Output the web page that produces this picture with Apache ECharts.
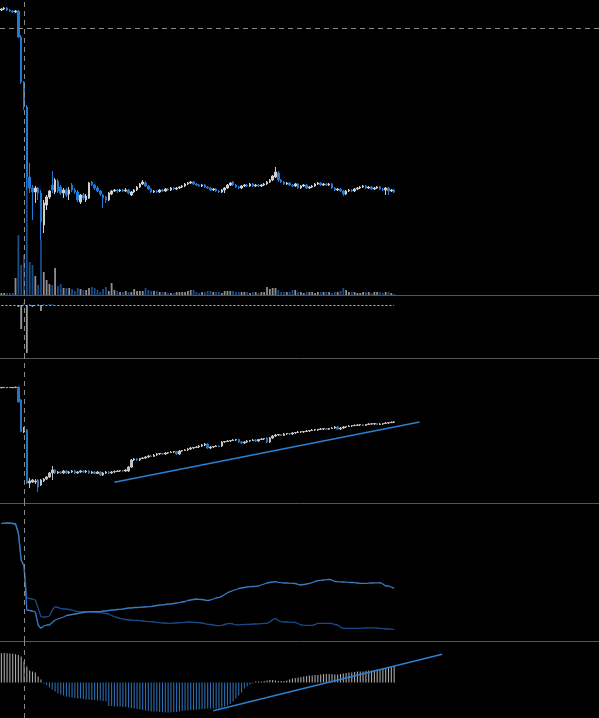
<!DOCTYPE html>
<html><head><meta charset="utf-8">
<script src="https://cdn.jsdelivr.net/npm/echarts@6/dist/echarts.min.js"></script>
<style>html,body{margin:0;padding:0;background:#000;overflow:hidden}#c{width:599px;height:718px}</style>
</head><body><div id="c"></div>
<script>
// ---------- DATA ----------
const slotCount = 212;
const categories = Array.from({length: slotCount}, (_, i) => 'T' + (i + 1));
const markerIndex = 8;
const priceRef = 271.7;

// price candles: [open, close, low, high]
const priceCandles = [
[290,291,289,292],[291,292,290,293],[292,290,289,293],[290,289,288,291],[289,288,287,290],
[288,289,287,290],[289,263,262,290],[263,218,216,265],[218,193,190,219],[193,123,110,195],
[123,112,107,137],[112,108,80,115],[108,112,97,114],[112,107,100,113],[107,78,60,110],
[75,97,67,100],[95,103,90,105],[103,109,101,110],[115,110,107,129],[108,120,106,122],
[119,109,107,121],[113,107,105,115],[107,110,102,112],[110,105,103,112],[106,110,100,113],
[115,110,108,117],[110,108,106,112],[108,100,98,110],[98,105,96,106],[105,102,100,107],
[100,104,98,106],[102,117,101,118],[118,115,114,119],[115,112,110,116],[112,109,108,114],
[109,106,104,110],[105,102,92,106],[103,100,97,104],[100,107,99,108],[106,109,105,110],
[109,110,108,111],[110,109,107,111],[109,110,108,111],[110,109,108,111],[109,110,108,112],
[110,107,106,111],[105,108,104,109],[108,110,107,111],[110,113,109,114],[113,116,112,117],
[116,118,115,120],[117,114,113,119],[114,111,110,115],[111,108,107,112],[108,109,107,110],
[109,108,107,110],[108,110,107,111],[110,109,108,111],[109,111,108,112],[111,110,109,112],
[110,112,109,113],[112,111,110,113],[111,112,110,113],[112,113,111,114],[113,114,112,115],
[114,116,113,117],[116,117,115,118],[117,118,116,119],[118,116,115,119],[116,115,114,117],
[115,114,113,116],[114,115,113,116],[115,113,112,116],[113,112,111,114],[112,110,109,113],
[110,111,109,112],[111,109,108,112],[109,108,107,110],[108,110,107,111],[110,112,107,113],
[112,115,111,116],[115,117,114,118],[118,115,114,119],[115,113,112,116],[113,112,111,114],
[112,114,111,115],[114,115,113,116],[115,114,113,116],[114,116,113,117],[116,114,113,117],
[114,115,113,116],[115,114,113,116],[114,115,113,116],[115,116,114,117],[116,118,115,119],
[118,120,117,121],[120,124,119,125],[123,128,122,133],[127,120,118,129],[120,118,117,121],
[118,116,115,119],[116,117,115,118],[117,115,114,118],[115,114,113,116],[114,116,113,117],
[116,112,111,117],[112,114,111,115],[114,115,113,116],[115,112,111,116],[112,113,111,114],
[113,114,112,115],[114,116,113,117],[116,117,115,118],[117,115,114,118],[115,116,114,117],
[116,115,114,117],[115,116,114,117],[116,112,111,117],[112,110,109,113],[110,111,109,112],
[111,109,108,112],[109,106,104,110],[106,109,105,110],[109,110,108,111],[110,109,108,111],
[109,111,108,112],[111,112,110,113],[112,113,111,114],[113,114,112,115],[114,112,111,115],
[112,113,111,114],[113,111,110,114],[111,112,110,113],[112,113,111,114],[113,111,110,114],
[111,110,109,112],[110,112,105,113],[112,109,105,113],[109,110,108,111],[110,108,107,111]
];

const volumes = [
2,2,2,2,2,17,60,30,40,117, 33,30,19,10,55,23,15,11,10,27,
9,11,7,7,7,6,4,7,6,5, 5,7,8,7,5,3,6,8,4,12,
5,4,3,3,4,3,3,6,4,4, 4,7,5,4,4,4,3,3,3,2,
2,2,3,3,3,3,4,5,5,3, 2,3,3,4,4,3,3,3,2,4,
4,4,4,3,3,3,3,3,2,3, 3,2,3,3,8,6,7,7,5,3,
3,3,3,5,5,3,3,2,3,3, 3,2,3,3,3,3,3,2,3,3,
4,7,5,3,3,3,2,2,3,3, 3,2,3,3,3,2,3,3,2,1
];

const flowBars = [0,0,0,0,0,0,-2,-24,2,-48, 1,-2,0,1,-6,1,0,1,1,0];

// indicator candles: [open, close, low, high]
const indexCandles = [
[122.2,122.6,121.8,123],[122.4,122.7,122,123],[122.3,122.6,122,123],[122.4,122.7,122,123],[122.3,122.6,122,123],
[122.4,122.8,122,123.2],[123,108,107.5,123.5],[110,78.5,78,111],[78,79,77,83],[80,27,26,81],
[27,29,22,32],[28,30,27,31],[28,29,26,31],[30,23,18,31],[25,30,24,31],
[29,31,28,32],[31,33,30,34],[33,37,32,38],[37,40,30,44],[40,37,36,41],
[37,38,36,39],[38,37,36,39],[37,39,36,40],[39,37,36,40],[37,38,36,39],
[38,39,37,40],[39,37,36,40],[37,38,36,39],[38,39,37,40],[39,38,37,40],
[38,39,37,40],[39,37,36,40],[37,38,36,39],[38,36.5,36,39],[36.5,38,36,39],
[38,35,34,39],[35,37,34,38],[37,38,36,39],[38,37,36,39],[37,38,36,39],
[38,38.5,37,39.5],[38.5,39,38,40],[39,39.5,38,40],[39.5,39,38,40],[39,40,38,41],
[39,43,38,44],[43,50,42,51],[50,51,49,52],[51,50,49,52],[50,51.5,49,52],
[51.5,52,51,53],[52,53,51,54],[53,54,52,55],[54,53.5,53,55],[53.5,55,53,56],
[55,56,54,57],[56,56.5,55,57],[56.5,56,55,57],[56,57,55,58],[57,57.5,56,58],
[57.5,58,57,59],[58,58.5,57,59],[58.5,56,55,59],[56,59,55,60],[59,59.5,58,60],
[59.5,60,59,61],[60,61,59,62],[61,62,60,63],[62,62.5,61,63],[62.5,63,62,64],
[63,64,62,65],[64,65,63,66],[65,66,64,67],[66,62,61,67],[62,63,61,64],
[63,63.5,62,64],[63.5,64,63,65],[64,63.5,63,65],[64,68,63,69],[68,68.5,67,69],
[68.5,69,68,70],[69,69.5,68,70],[69.5,70,69,71],[70,70.5,69,71],[70.5,68,67,71],
[68,67,66,69],[67,68,66,69],[68,69,67,70],[69,69.5,68,70],[69.5,70,69,71],
[70,69,68,71],[69,70.5,68,71],[70.5,71,70,72],[71,71.5,70,72],[72,68,67,73],
[68,72,67,73],[72,74,71,75],[74,75,73,76],[75,75.5,74,76],[75.5,74.5,74,76],
[74.5,76,74,77],[76,76.5,75,77],[76.5,76,75,77],[76,77,75,78],[77,77.5,76,78],
[77.5,78,77,79],[78,78.3,77,79],[78,78.5,77,79],[78.5,79,78,80],[79,79.5,78,80],
[79.5,80,79,81],[80,80.5,79,81],[80,80.8,79,81],[80.5,81,80,82],[81,81.3,80,82],
[81.3,80.7,80,82],[80.7,81.5,80,82],[81.5,82,81,83],[82,83,81,84],[83,81,80,84],
[81,82,80,83],[82,83,81,84],[83,83.5,82,84],[83.5,84,83,85],[84,84.3,83,85],
[84.3,84.7,84,85.5],[84.7,85,84,86],[85,85.3,84,86],[85.3,84.5,84,86],[84.5,85.5,84,86],
[85.5,86,85,87],[86,86.2,85,87],[86,86.5,85,87],[86.5,85.5,85,87],[85.5,86,85,87],
[86,86.5,85,87],[86.5,87,86,88],[87,87.3,86,88],[87.3,87.8,87,88.5],[87.8,88,87,89]
];
const indexTrend = [[40, 27.8], [148, 88.1]];

const lineLight = [
126.7,126.7,127,126.8,126.5,126,117,90,84,40,
39.5,39,38,25,21.7,24,25,25,27.5,30,
31,32,33,34.5,35,35.5,36,36.5,37,37.5,
38,38.3,38.3,38.3,38.3,38.3,39,39,39.5,40,
40,40.5,40.7,41,41.5,42,42,42.5,42.5,42.7,
43,43,43.3,43.5,44,44.5,45,45.2,45.5,46,
46,46.5,47,47.3,48,48.5,49.5,50,50.5,51,
50.7,50.5,50,49.3,50,51,52,52.7,53.5,55.5,
57.3,58.3,59.5,60.5,61.5,62,62.5,63,63.3,63.5,
63.7,64,65,66,67,67.5,68,68.3,67.7,67.3,
67,67,66.8,66.7,66.5,65.7,65,65.5,66,66.7,
67.3,68.5,69.3,69.7,70,70.3,70.7,70,68.5,68.3,
68.2,68,67.8,67.7,67.5,67.3,67,66.7,66.7,66.7,
66.8,67,67.1,67.2,67.3,66,64,64,63,61.7
];
const lineDark = [
126.7,126.7,127,126.8,126.5,126,117,90,84,52,
51.5,51,50,42,33.3,33,33,34,40,43.3,
42.5,41.7,41,41,40.5,40,39,38.3,38.3,38.3,
38.3,38,38,37.7,37.5,37.3,37,36.7,36,34.5,
33.3,32.5,31.7,31,30.5,30,30,29.7,29.5,29.3,
29,28.7,28.3,28.3,28,27.7,27.3,27,27,26.7,
26.7,27,27,27.3,27.3,27.7,28,28,27.7,27.5,
27.3,27,26.3,25.7,25.5,25,24.5,24.3,24.7,25.5,
26.3,26.7,26,25,25.2,25.4,25.5,25.6,25.7,26,
26,26.2,26.4,26.6,26.7,28,30.5,31.7,29.5,28.3,
28,28,27.8,27.7,27.7,26.5,25,24.8,24.7,24.7,
24.7,25.5,26.7,26.7,26.7,26.7,26.7,26.5,25.5,25,
23,21.7,21.7,21.7,21.7,21.7,21.7,21.7,21.8,22,
22.1,22.2,22.2,22,21.7,21.4,21,21,20.8,20.7
];

const histogram = [
29.3,29.5,29.3,29,28.8,28.3,27.5,26,21,16,
12,11,10,6,3,-1,-2.5,-5,-7,-9,
-11,-12,-13,-14,-14.5,-15,-15.5,-16,-16,-16.5,
-17,-17,-17.5,-17.5,-18,-18,-18.5,-19,-23.5,-23.5,
-24,-24,-24,-24.5,-24.5,-25,-25.5,-26,-26.5,-27,
-27.5,-28,-28.5,-29,-29,-29,-29.5,-29.5,-30,-30,
-30,-29.5,-29.5,-29,-28.5,-28,-28,-27.5,-27.5,-27,
-27,-26.5,-26.5,-26,-26,-26,-26,-26,-25,-24,
-23,-21.5,-19,-16,-13,-10,-6,-4,-2,-1,
1,1,1,1.5,2,2.5,2.5,2,1.5,1.5,
1.5,2,3,4,4.5,5,5.5,6,6.5,7,
7,7.5,7.5,8,8.5,8.5,8.5,8.5,8,8,
8.5,9,9.5,10,10,10.5,11,11,11,11.5,
12,12,12.5,13,13.5,14,14.5,15,15.5,16.5
];
const histTrend = [[75, -28.2], [156, 28.3]];

// ---------- STYLE ----------
const C = {
  up: '#d0d0d0', down: '#1f7bd6',
  volUp: '#8e8e8e', volDown: '#1b4c88',
  idxUp: '#c4c4c4', idxDown: '#2b74b8',
  light: '#3a7bbd', dark: '#1b4a8a',
  histUp: '#a8a8a8', histDown: '#2d6db0',
  trend: '#2a80d2', sep: '#555555', dash: '#8a8a8a'
};

const chart = echarts.init(document.getElementById('c'), null, {renderer: 'canvas'});

const xa = (gi, line) => ({
  type: 'category', gridIndex: gi, data: categories, boundaryGap: true,
  axisLine: {show: line, onZero: false, lineStyle: {color: C.sep, width: 1}},
  axisTick: {show: false}, axisLabel: {show: false}, splitLine: {show: false}
});
const ya = (gi, min, max) => ({type: 'value', gridIndex: gi, min: min, max: max, show: false, splitLine: {show: false}});

const vLine = {xAxis: categories[markerIndex], lineStyle: {color: C.dash, type: [5, 4], width: 1}};
const mk = (extra) => ({silent: true, symbol: 'none', animation: false, label: {show: false}, data: [vLine].concat(extra || [])});
const trendPair = (t) => [{coord: [categories[t[0][0]], t[0][1]], lineStyle: {color: C.trend, width: 1.5, type: 'solid'}}, {coord: [categories[t[1][0]], t[1][1]]}];

const option = {
  backgroundColor: '#000',
  animation: false,
  grid: [
    {left: 0, right: 0, top: 0, height: 295},
    {left: 0, right: 0, top: 160, height: 135},
    {left: 0, right: 0, top: 295, height: 63},
    {left: 0, right: 0, top: 358, height: 145},
    {left: 0, right: 0, top: 503, height: 138},
    {left: 0, right: 0, top: 641, height: 77}
  ],
  xAxis: [xa(0, false), xa(1, true), xa(2, true), xa(3, true), xa(4, true), xa(5, false)],
  yAxis: [ya(0, 5, 300), ya(1, 0, 135), ya(2, -53, 10), ya(3, 7, 152), ya(4, 9, 147), ya(5, -35.5, 41.5)],
  series: [
    {
      type: 'candlestick', xAxisIndex: 0, yAxisIndex: 0, data: priceCandles, barWidth: 2,
      itemStyle: {color: C.up, color0: C.down, borderColor: C.up, borderColor0: C.down, borderWidth: 1},
      markLine: mk([{yAxis: priceRef, lineStyle: {color: C.dash, type: [5, 4], width: 1}}])
    },
    {
      type: 'bar', xAxisIndex: 1, yAxisIndex: 1, barWidth: 1.8,
      data: volumes.map((v, i) => ({value: v, itemStyle: {color: priceCandles[i][1] > priceCandles[i][0] ? C.volUp : C.volDown}}))
    },
    {
      type: 'bar', xAxisIndex: 2, yAxisIndex: 2, barWidth: 1.8,
      data: flowBars.map(v => ({value: v, itemStyle: {color: v > 0 ? C.volDown : '#9a9a9a'}})),
      markLine: mk([[{coord: [categories[0], 0], lineStyle: {color: '#bdbdbd', type: [2, 2], width: 1}}, {coord: [categories[priceCandles.length - 1], 0]}]])
    },
    {
      type: 'candlestick', xAxisIndex: 3, yAxisIndex: 3, data: indexCandles, barWidth: 2,
      itemStyle: {color: C.idxUp, color0: C.idxDown, borderColor: C.idxUp, borderColor0: C.idxDown, borderWidth: 1},
      markLine: mk([trendPair(indexTrend)])
    },
    {
      type: 'line', xAxisIndex: 4, yAxisIndex: 4, data: lineDark, showSymbol: false, symbol: 'none',
      lineStyle: {color: C.dark, width: 1.3}
    },
    {
      type: 'line', xAxisIndex: 4, yAxisIndex: 4, data: lineLight, showSymbol: false, symbol: 'none',
      lineStyle: {color: C.light, width: 1.3},
      markLine: mk()
    },
    {
      type: 'bar', xAxisIndex: 5, yAxisIndex: 5, barWidth: 1.1,
      data: histogram.map(v => ({value: v, itemStyle: {color: v >= 0 ? C.histUp : C.histDown}})),
      markLine: mk([trendPair(histTrend)])
    }
  ]
};
chart.setOption(option);
</script></body></html>
